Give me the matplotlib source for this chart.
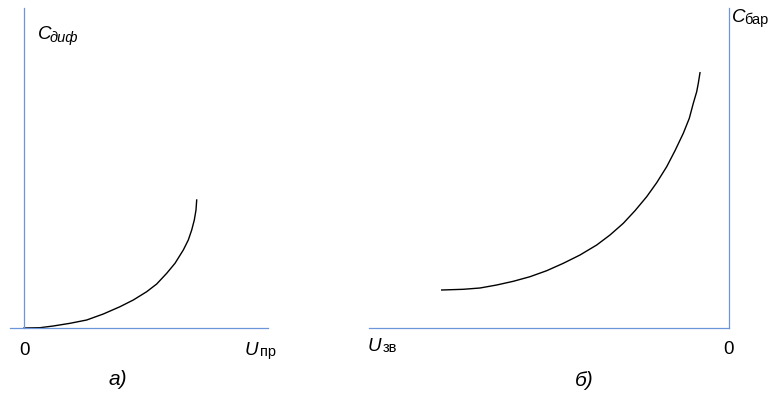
import matplotlib.pyplot as plt
from matplotlib.transforms import IdentityTransform

plt.rcParams['font.family'] = ['Liberation Sans', 'DejaVu Sans']

# a) forward bias: diffusion capacitance vs forward voltage
u_pr = [0, 16, 29.3, 46, 62.7, 79.3, 96, 109.3, 122.7, 132.7, 142.7,
        151, 159.3, 164.3, 167.7, 170.3, 172, 172.7]
c_dif = [0, 0.3, 2, 4.7, 8, 14, 21.3, 28, 36.3, 44, 54.7,
         64.7, 78, 88, 98, 108, 118, 128]

# b) reverse bias: barrier capacitance vs reverse voltage
u_zv = [-287.3, -265.7, -249, -232.3, -215.7, -199, -182.3, -165.7, -149,
        -132.3, -119, -105.7, -94, -82.3, -72.3, -62.3, -54, -45.7,
        -39.7, -35.7, -32.3, -30.7, -29]
c_bar = [38, 38.7, 40, 43, 46.7, 51.3, 57.3, 64.7, 73,
         83, 93, 104.7, 117.3, 131.3, 145.3, 161.3, 177.3, 194.7,
         209.7, 224.7, 236.3, 244.7, 255.3]

W, H = 775, 395
fig = plt.figure(figsize=(W / 100, H / 100), dpi=100)

axis_col = '#6c96dc'


def frac(x0, x1, top, bottom):
    return [x0 / W, (H - bottom) / H, (x1 - x0) / W, (bottom - top) / H]


ax1 = fig.add_axes(frac(10, 268, 8, 328))
ax1.plot(u_pr, c_dif, color='black', lw=1.0, clip_on=False,
         solid_joinstyle='round')
ax1.set_xlim(-14, 244)
ax1.set_ylim(0, 320)
ax1.spines['left'].set_position(('data', 0))
ax1.spines['top'].set_visible(False)
ax1.spines['right'].set_visible(False)

ax2 = fig.add_axes(frac(369, 729, 8, 328))
ax2.plot(u_zv, c_bar, color='black', lw=1.0, clip_on=False,
         solid_joinstyle='round')
ax2.set_xlim(-360, 0)
ax2.set_ylim(0, 320)
ax2.spines['left'].set_visible(False)
ax2.spines['top'].set_visible(False)

for ax in (ax1, ax2):
    ax.patch.set_visible(False)
    ax.set_xticks([])
    ax.set_yticks([])
    for s in ax.spines.values():
        s.set_color(axis_col)
        s.set_linewidth(0.9)


def put(x, y, s, size=13.5, style='normal', ha='left'):
    # pixel coordinates measured from the top-left corner
    fig.text(x, H - y, s, transform=IdentityTransform(), fontsize=size,
             fontstyle=style, ha=ha, va='baseline')


put(38, 39, 'C', style='italic')
put(50, 42, 'диф', size=10.5, style='italic')
put(732, 22, 'C', style='italic')
put(744, 24, 'бар', size=10.5)

put(245, 355, 'U', style='italic')
put(260, 356, 'пр', size=10.5)
put(368, 351, 'U', style='italic')
put(383, 352, 'зв', size=10.5)

put(24, 355, '0', ha='center')
put(728, 354, '0', ha='center')

put(118, 385, 'а)', size=15, style='italic', ha='center')
put(584, 386, 'б)', size=15, style='italic', ha='center')

fig.savefig('out.png', dpi=100)
